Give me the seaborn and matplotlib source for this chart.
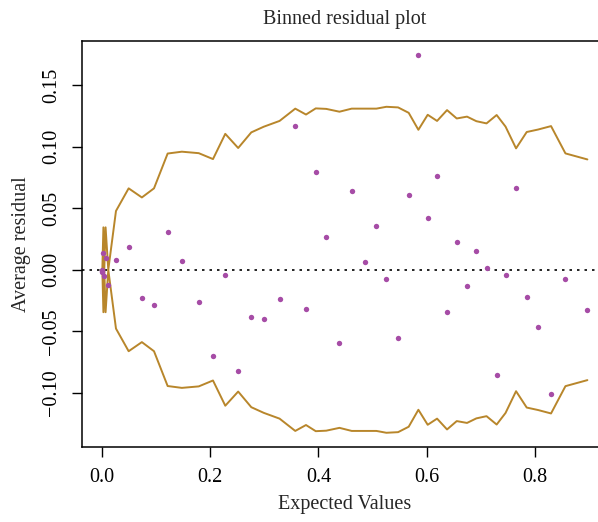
import matplotlib
matplotlib.use("Agg")
import matplotlib.pyplot as plt
import seaborn as sns
import pandas as pd

# Binned residuals
expected = [0.0000, 0.0005, 0.0010, 0.0030, 0.0046, 0.0070, 0.0120,
            0.0262, 0.0496, 0.0740, 0.0964, 0.1216, 0.1478, 0.1790, 0.2053,
            0.2280, 0.2518, 0.2760, 0.2990, 0.3282, 0.3572, 0.3770, 0.3950,
            0.4143, 0.4388, 0.4614, 0.4854, 0.5070, 0.5254, 0.5470, 0.5666,
            0.5845, 0.6017, 0.6190, 0.6374, 0.6553, 0.6743, 0.6915, 0.7103,
            0.7290, 0.7454, 0.7648, 0.7845, 0.8054, 0.8294, 0.8560, 0.8965]

avg_resid = [0.0000, -0.0010, -0.0020, 0.0139, -0.0048, 0.0099, -0.0121,
             0.0080, 0.0183, -0.0227, -0.0286, 0.0310, 0.0074, -0.0265, -0.0698,
             -0.0042, -0.0823, -0.0386, -0.0403, -0.0235, 0.1170, -0.0321, 0.0795,
             0.0264, -0.0598, 0.0641, 0.0060, 0.0359, -0.0076, -0.0557, 0.0605,
             0.1744, 0.0424, 0.0765, -0.0343, 0.0226, -0.0134, 0.0156, 0.0016,
             -0.0855, -0.0042, 0.0662, -0.0218, -0.0468, -0.1007, -0.0076, -0.0324]

# 2 * standard error for each bin
two_se = [0.0, 0.0, 0.0, 0.0345, 0.0, 0.0345, 0.0,
          0.0478, 0.0662, 0.0588, 0.0662, 0.0945, 0.0960, 0.0948, 0.0900,
          0.1105, 0.0990, 0.1117, 0.1163, 0.1210, 0.1310, 0.1262, 0.1312,
          0.1308, 0.1285, 0.1310, 0.1310, 0.1310, 0.1325, 0.1320, 0.1276,
          0.1138, 0.1260, 0.1210, 0.1298, 0.1230, 0.1245, 0.1208, 0.1190,
          0.1258, 0.1164, 0.0987, 0.1120, 0.1140, 0.1168, 0.0946, 0.0897]

x_ticks = [0.0, 0.2, 0.4, 0.6, 0.8]
y_ticks = [-0.10, -0.05, 0.00, 0.05, 0.10, 0.15]

df = pd.DataFrame({'expected': expected, 'resid': avg_resid, 'se2': two_se})
df['lower'] = -df['se2']

sns.set_style("ticks")
plt.rcParams['font.family'] = ['Liberation Serif', 'DejaVu Serif']

LINE_COL = '#B8862B'
PT_COL = '#A64CA6'

fig = plt.figure(figsize=(5.98, 5.22), dpi=100)
ax = fig.add_axes([0.1376, 0.1443, 0.8768, 0.7772])

ax.axhline(0, color='black', lw=1.2, linestyle=(0, (1.5, 3)), zorder=1)
sns.lineplot(data=df, x='expected', y='se2', sort=False, estimator=None,
             color=LINE_COL, lw=1.4, ax=ax, zorder=2)
sns.lineplot(data=df, x='expected', y='lower', sort=False, estimator=None,
             color=LINE_COL, lw=1.4, ax=ax, zorder=2)
sns.scatterplot(data=df, x='expected', y='resid', color=PT_COL, s=15,
                linewidth=0, ax=ax, zorder=3)

ax.set_xlim(-0.036, 0.932)
ax.set_ylim(-0.1438, 0.186)
ax.set_xticks(x_ticks)
ax.set_xticklabels([f'{v:.1f}' for v in x_ticks])
ax.set_yticks(y_ticks)
ax.set_yticklabels([f'{v:.2f}'.replace('-', '\u2212') for v in y_ticks],
                   rotation=90, va='center')

# box runs off the right edge of the picture
for s in ax.spines.values():
    s.set_visible(True)
    s.set_color('black')
    s.set_linewidth(1.1)
ax.spines['right'].set_visible(False)

ax.tick_params(axis='both', direction='out', length=7, width=1, colors='black',
               labelsize=14.5, pad=8)
ax.set_xlabel('Expected Values', fontsize=14.5, labelpad=6)
ax.set_ylabel('Average residual', fontsize=14.5, labelpad=8)
ax.set_title('Binned residual plot', fontsize=14.5, pad=12)

fig.savefig('out.png', dpi=100)
